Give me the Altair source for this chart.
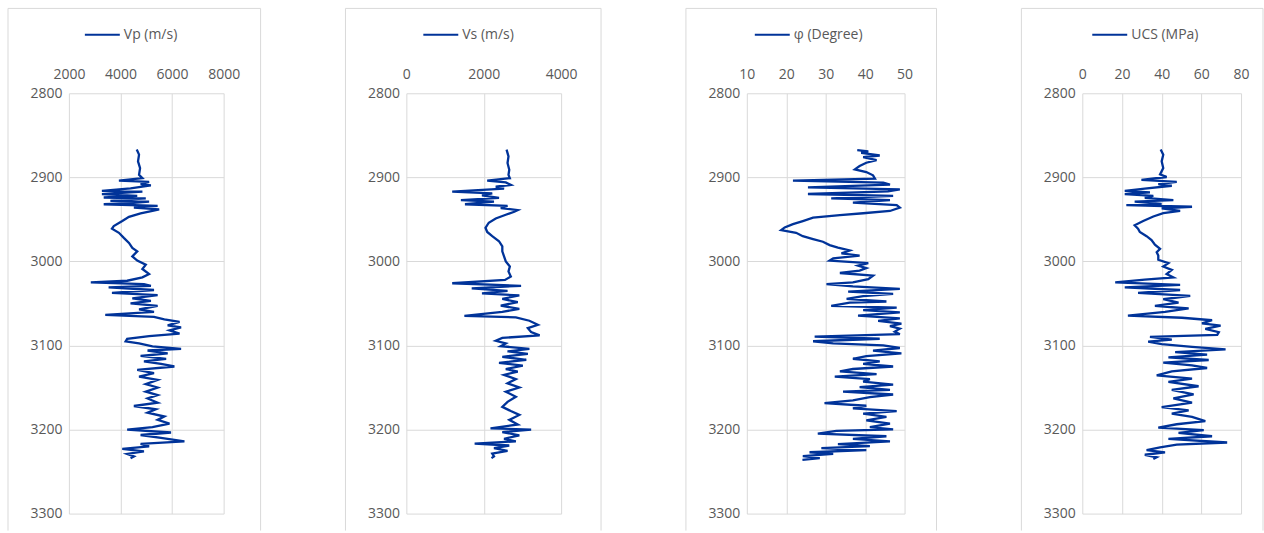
import altair as alt
import pandas as pd

# ---------------- data ----------------
vp_depth = [2867, 2873, 2881, 2889, 2897, 2901, 2904, 2905.5, 2908, 2909.5, 2913, 2916, 2917, 2920, 2922, 2924, 2925, 2928, 2929, 2931,
            2932, 2934, 2936, 2938, 2940, 2943, 2947, 2952, 2958, 2961, 2966, 2972, 2978, 2984, 2988, 2994, 2999, 3004, 3009, 3015,
            3019, 3023, 3025, 3027, 3029, 3031, 3034, 3037.5, 3040, 3044, 3047, 3050, 3053, 3057, 3060, 3063.5, 3066, 3069, 3072, 3076,
            3078.5, 3082, 3086, 3089, 3092, 3095, 3097.5, 3101, 3104, 3106, 3109.5, 3112.5, 3116, 3119, 3122, 3125, 3129, 3133, 3137, 3141,
            3146, 3150, 3155, 3159, 3163, 3168, 3172, 3176, 3180, 3184.5, 3188.5, 3193, 3197, 3200, 3203.5, 3206.5, 3210, 3214, 3217, 3220,
            3223, 3226, 3229, 3232, 3234]
vp_vals = [4630, 4720, 4680, 4760, 4720, 4850, 3940, 5110, 4780, 5180, 4390, 3280, 4850, 3280, 4650, 3350, 4980, 3610, 5110, 4260,
           3350, 5440, 4520, 5500, 5240, 4780, 4330, 4070, 3740, 3670, 3940, 4130, 4330, 4460, 4650, 4460, 4650, 4980, 4850, 5110,
           4850, 4260, 2850, 4910, 5180, 3540, 5300, 3670, 5440, 4460, 5180, 4390, 5440, 4720, 5300, 3410, 5300, 5700, 6290, 5830,
           6350, 5900, 6290, 5110, 4260, 4200, 4720, 5240, 6350, 5050, 5830, 4780, 5770, 4910, 5570, 6090, 4650, 5300, 4720, 5440,
           4980, 5440, 4980, 5440, 5050, 5440, 4520, 5370, 5050, 5700, 5440, 5900, 5240, 4260, 5960, 4780, 5570, 6480, 4780, 5110,
           4070, 4910, 4260, 4520, 4390]

vs_depth = [2867, 2875, 2883, 2891, 2897, 2901, 2904, 2906, 2909, 2911, 2913.5, 2917, 2919, 2921.5, 2924.5, 2927, 2929, 2932, 2934, 2936.5,
            2939, 2941, 2944.5, 2949, 2954, 2960, 2965, 2970, 2976, 2982, 2988, 2994, 3000, 3006, 3012, 3018, 3022, 3026, 3029, 3032,
            3035, 3038, 3040.5, 3044.5, 3048.5, 3052.5, 3056.5, 3060, 3064.7, 3066.6, 3070.6, 3075.4, 3079.4, 3084, 3088, 3091, 3094.4, 3097.6, 3100.8, 3104,
            3107, 3110, 3113.5, 3117, 3120.6, 3124, 3128, 3131, 3135, 3140, 3145, 3150, 3155, 3161, 3167, 3173, 3178, 3182.6, 3188.5, 3194,
            3198.5, 3200, 3203, 3207, 3211, 3214, 3216.7, 3219, 3222, 3225.5, 3228.6, 3232, 3234]
vs_vals = [2590, 2640, 2615, 2660, 2640, 2675, 2090, 2570, 2700, 2310, 2525, 1185, 2220, 1955, 2395, 1410, 2265, 1515, 2615, 2440,
           2880, 2790, 2570, 2310, 2130, 2045, 2090, 2220, 2395, 2480, 2480, 2525, 2570, 2675, 2640, 2700, 2550, 1185, 2965, 1690,
           2615, 1955, 2920, 2480, 2880, 2440, 2920, 2480, 1500, 2830, 3180, 3400, 3140, 3225, 3445, 2480, 2310, 2570, 2440, 3180,
           2615, 3140, 2480, 3100, 2395, 3010, 2570, 2880, 2525, 2830, 2615, 2920, 2570, 2830, 2615, 2480, 2700, 2920, 2660, 2880,
           2175, 3225, 2480, 2920, 2525, 2830, 1765, 2660, 2265, 2615, 2220, 2265, 2200]

phi_depth = [2867.5, 2869, 2871, 2874, 2876, 2879.5, 2882.6, 2886.6, 2890.5, 2893.7, 2897.6, 2901.6, 2904, 2906.3, 2908.7, 2911.9, 2914.2, 2916.6, 2919.8, 2922,
             2925, 2927, 2930, 2933, 2936, 2940, 2942.7, 2945, 2948, 2952, 2955.7, 2959.6, 2962.8, 2966, 2970, 2973.5, 2976.6, 2980.6, 2983.7, 2987,
             2990.5, 2993, 2996.4, 2999, 3002, 3005, 3008, 3011, 3013.8, 3017, 3021, 3025, 3027, 3029.6, 3032.7, 3036, 3038.6, 3041.4, 3044.6, 3047.7,
             3049, 3053, 3055, 3058, 3060.6, 3064.5, 3067.7, 3070.8, 3074, 3077, 3080, 3083.5, 3086.6, 3089.4, 3092, 3095, 3097.6, 3100, 3103, 3106,
             3109.5, 3112.6, 3115.8, 3119, 3122, 3125, 3128, 3130.7, 3134, 3137, 3140, 3143, 3146.5, 3149.6, 3152.8, 3155, 3158.3, 3161.5, 3165.4, 3168.5,
             3171.7, 3174.9, 3178, 3181, 3185, 3189, 3193, 3197, 3199.7, 3201.6, 3204.8, 3208, 3211, 3214, 3217.4, 3219.8, 3222, 3224.5, 3227, 3229,
             3231.6, 3234, 3236]
phi_vals = [38.0, 40.8, 39.0, 43.7, 39.5, 42.9, 40.3, 38.6, 37.4, 40.3, 42.0, 42.5, 21.7, 44.6, 46.3, 25.5, 48.8, 45.8, 25.5, 47.1,
            31.4, 46.3, 36.9, 48.0, 48.8, 46.3, 39.5, 33.6, 26.8, 24.2, 21.7, 19.6, 18.7, 22.5, 24.2, 26.8, 29.3, 31.0, 33.1, 36.1,
            34.0, 38.6, 31.9, 31.0, 40.8, 38.2, 40.3, 38.6, 33.6, 42.0, 40.8, 36.9, 30.2, 36.9, 48.8, 35.7, 47.1, 39.5, 35.3, 45.4,
            36.1, 31.4, 48.0, 39.5, 48.8, 38.2, 48.8, 43.3, 49.2, 46.3, 48.8, 47.5, 48.8, 27.2, 43.7, 26.8, 31.9, 44.6, 48.8, 42.0,
            49.2, 40.3, 36.9, 43.7, 39.5, 47.1, 36.9, 33.6, 42.9, 32.3, 41.2, 39.5, 47.1, 38.6, 46.3, 34.4, 47.1, 41.2, 36.9, 29.7,
            40.3, 36.9, 48.0, 39.5, 45.4, 40.3, 46.3, 41.2, 47.1, 32.7, 28.0, 45.4, 36.9, 46.3, 33.1, 41.2, 28.9, 40.3, 25.9, 31.9,
            24.2, 28.5, 24.1]

ucs_depth = [2867, 2873, 2881, 2889, 2896.5, 2899.6, 2903, 2905.5, 2908, 2910, 2913.4, 2916, 2918, 2920, 2922, 2924.5, 2927, 2929, 2931.6, 2933,
             2935, 2937, 2940, 2942.7, 2946.6, 2952, 2957, 2961, 2965, 2970, 2974.5, 2980, 2985, 2989, 2993, 2998, 3002, 3006, 3010, 3015,
             3019, 3021.7, 3025, 3028, 3031, 3034, 3037.5, 3041, 3045, 3049, 3053, 3056, 3060, 3064.5, 3067, 3070, 3073.6, 3076.4, 3080.3, 3084.2,
             3087.4, 3089.8, 3093, 3095.3, 3098.4, 3101.6, 3104.7, 3108, 3111, 3114.2, 3117.3, 3120.5, 3123.6, 3126.8, 3130.7, 3135.5, 3139.4, 3143.3, 3148.5, 3152.8,
             3158.3, 3163, 3168, 3173.3, 3177.2, 3181, 3185, 3190, 3193.7, 3197.6, 3200.8, 3204, 3208, 3211, 3215.4, 3218, 3221.3, 3224.4, 3227.2, 3230,
             3233, 3235]
ucs_vals = [39.5, 40.8, 40.0, 40.8, 39.2, 42.5, 29.8, 47.6, 38.3, 45.1, 31.5, 21.4, 34.1, 21.4, 35.8, 31.5, 45.9, 26.4, 40.0, 22.2,
            55.3, 40.0, 49.3, 40.8, 35.8, 30.7, 26.4, 28.1, 29.0, 32.4, 34.9, 36.6, 39.2, 37.5, 38.3, 38.3, 43.4, 40.8, 45.1, 42.5,
            45.9, 31.5, 16.6, 49.3, 21.4, 49.3, 28.1, 54.4, 40.8, 48.5, 36.6, 53.6, 41.7, 23.0, 50.2, 65.4, 60.3, 69.7, 62.0, 68.8,
            68.0, 34.1, 45.1, 33.2, 40.0, 55.3, 72.2, 46.8, 62.9, 43.4, 63.7, 40.8, 55.3, 62.9, 45.1, 37.5, 55.3, 43.4, 58.6, 45.1,
            56.1, 45.9, 55.3, 40.0, 53.6, 45.1, 55.3, 62.0, 47.6, 38.3, 61.2, 48.5, 65.4, 43.4, 73.0, 47.6, 39.2, 32.4, 41.7, 31.5,
            37.5, 35.8]

names = ["Vp (m/s)", "Vs (m/s)", "φ (Degree)", "UCS (MPa)"]
x_ticks = [[2000, 4000, 6000, 8000], [0, 2000, 4000], [10, 20, 30, 40, 50], [0, 20, 40, 60, 80]]
depth_ticks = [2800, 2900, 3000, 3100, 3200, 3300]

# ---------------- style ----------------
BLUE = "#003399"
GRID = "#d9d9d9"
BOX = "#d9d9d9"
TXT = "#595959"
FONT = "Open Sans"
PLOT_H = 421


def panel(name, depth, vals, ticks, width, legend_x, box_l, box_r):
    df = pd.DataFrame({"depth": depth, "val": vals, "idx": list(range(len(depth))), "series": name})
    line = alt.Chart(df).mark_line(strokeWidth=2.3, clip=False).encode(
        x=alt.X("val:Q",
                scale=alt.Scale(domain=[ticks[0], ticks[-1]], nice=False, zero=False),
                axis=alt.Axis(orient="top", values=ticks, format="d", title=None,
                              ticks=False, domain=False, labelPadding=12,
                              labelFlush=False, labelOverlap=False)),
        y=alt.Y("depth:Q",
                scale=alt.Scale(domain=[2800, 3300], reverse=True, nice=False, zero=False),
                axis=alt.Axis(values=depth_ticks, format="d", title=None,
                              ticks=False, domain=False, labelPadding=7,
                              labelFlush=False, labelOverlap=False)),
        color=alt.Color("series:N",
                        scale=alt.Scale(domain=[name], range=[BLUE]),
                        legend=alt.Legend(orient="none", legendX=legend_x, legendY=-77,
                                          title=None, symbolType="stroke", symbolSize=1225,
                                          symbolStrokeWidth=2, labelFontSize=14,
                                          labelColor=TXT, labelFont=FONT, padding=0,
                                          labelOffset=3)),
        order=alt.Order("idx:Q"),
    )
    box = alt.Chart(pd.DataFrame({"k": [0]}))
    left = box.mark_rule(color=BOX, strokeWidth=1).encode(
        x=alt.value(box_l), x2=alt.value(box_l), y=alt.value(-85), y2=alt.value(438))
    right = box.mark_rule(color=BOX, strokeWidth=1).encode(
        x=alt.value(box_r), x2=alt.value(box_r), y=alt.value(-85), y2=alt.value(438))
    top = box.mark_rule(color=BOX, strokeWidth=1).encode(
        x=alt.value(box_l), x2=alt.value(box_r), y=alt.value(-85), y2=alt.value(-85))
    return alt.layer(left, right, top, line).properties(width=width, height=PLOT_H)


p1 = panel(names[0], vp_depth, vp_vals, x_ticks[0], 155, 15, -61, 192)
p2 = panel(names[1], vs_depth, vs_vals, x_ticks[1], 155, 16, -61, 195)
p3 = panel(names[2], phi_depth, phi_vals, x_ticks[2], 158, 7, -61, 190)
p4 = panel(names[3], ucs_depth, ucs_vals, x_ticks[3], 159, 9, -61, 181)

chart = alt.hconcat(p1, p2, p3, p4, spacing=83).resolve_scale(
    color="independent", x="independent"
).resolve_legend(color="independent").properties(
    padding={"left": 7, "top": 7, "right": 0, "bottom": 0}
).configure_view(stroke=None).configure_axis(
    gridColor=GRID, gridWidth=1, labelColor=TXT, labelFont=FONT, labelFontSize=14
)

chart.save("out.html", embed_options={"renderer": "svg", "actions": False})
